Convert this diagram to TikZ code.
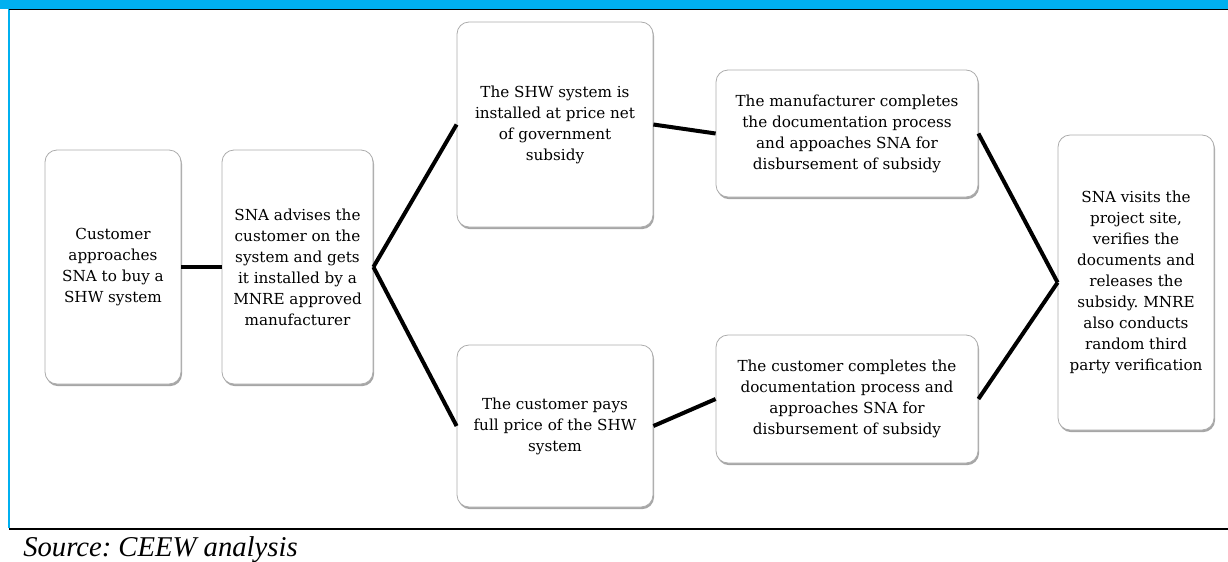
\documentclass[tikz,border=0pt]{standalone}
\usepackage{fontspec}
\setmainfont{DejaVu Serif}
\newfontfamily\sourcefont{Liberation Serif}
\usetikzlibrary{shadows}
\frenchspacing

\begin{document}
\begin{tikzpicture}[x=0.75pt,y=-0.75pt,
  stepbox/.style={draw=gray!65,line width=0.6pt,rounded corners=9pt,fill=white,
    align=center,inner sep=2pt,font=\fontsize{11.4}{15.75}\selectfont,
    drop shadow={shadow xshift=0.8pt,shadow yshift=-1.6pt,opacity=0.35,fill=black}},
  link/.style={line width=3pt}]
% Define frame colours
\definecolor{band}{RGB}{0,176,240}

\useasboundingbox (0,0) rectangle (1228,561);

% Draw frame
\fill[band] (0,0) rectangle (1228,9);
\draw[band,line width=1.5pt] (9,9) -- (9,528);
\draw[line width=1.2pt] (9,9.5) -- (1228,9.5);
\draw[line width=1.6pt] (9,529) -- (1228,529);

% Draw steps
\node[stepbox,minimum width=102pt,minimum height=175.5pt] (cust) at (113,267)
  {Customer\\approaches\\SNA to buy a\\SHW system};
\node[stepbox,minimum width=113.25pt,minimum height=175.5pt] (sna) at (297.5,267)
  {SNA advises the\\customer on the\\system and gets\\it installed by a\\MNRE approved\\manufacturer};
\node[stepbox,minimum width=147pt,minimum height=153.75pt] (net) at (555,124.5)
  {The SHW system is\\installed at price net\\of government\\subsidy};
\node[stepbox,minimum width=196.5pt,minimum height=95.25pt] (mfr) at (847,133.5)
  {The manufacturer completes\\the documentation process\\and appoaches SNA for\\disbursement of subsidy};
\node[stepbox,minimum width=147pt,minimum height=121.5pt] (full) at (555,426)
  {The customer pays\\full price of the SHW\\system};
\node[stepbox,minimum width=196.5pt,minimum height=96pt] (docs) at (847,399)
  {The customer completes the\\documentation process and\\approaches SNA for\\disbursement of subsidy};
\node[stepbox,minimum width=117pt,minimum height=221.25pt] (visit) at (1136,282.5)
  {SNA visits the\\project site,\\verifies the\\documents and\\releases the\\subsidy. MNRE\\also conducts\\random third\\party verification};

% Connect steps
\draw[link] (cust.east) -- (sna.west);
\draw[link] (sna.east) -- (net.west);
\draw[link] (sna.east) -- (full.west);
\draw[link] (net.east) -- (mfr.west);
\draw[link] (full.east) -- (docs.west);
\draw[link] (mfr.east) -- (visit.west);
\draw[link] (docs.east) -- (visit.west);

% Add source
\node[anchor=base west,inner sep=0pt,font=\sourcefont\itshape\fontsize{21.5}{24}\selectfont] (src) at (23,556) {Source: CEEW analysis};
\end{tikzpicture}
\end{document}
